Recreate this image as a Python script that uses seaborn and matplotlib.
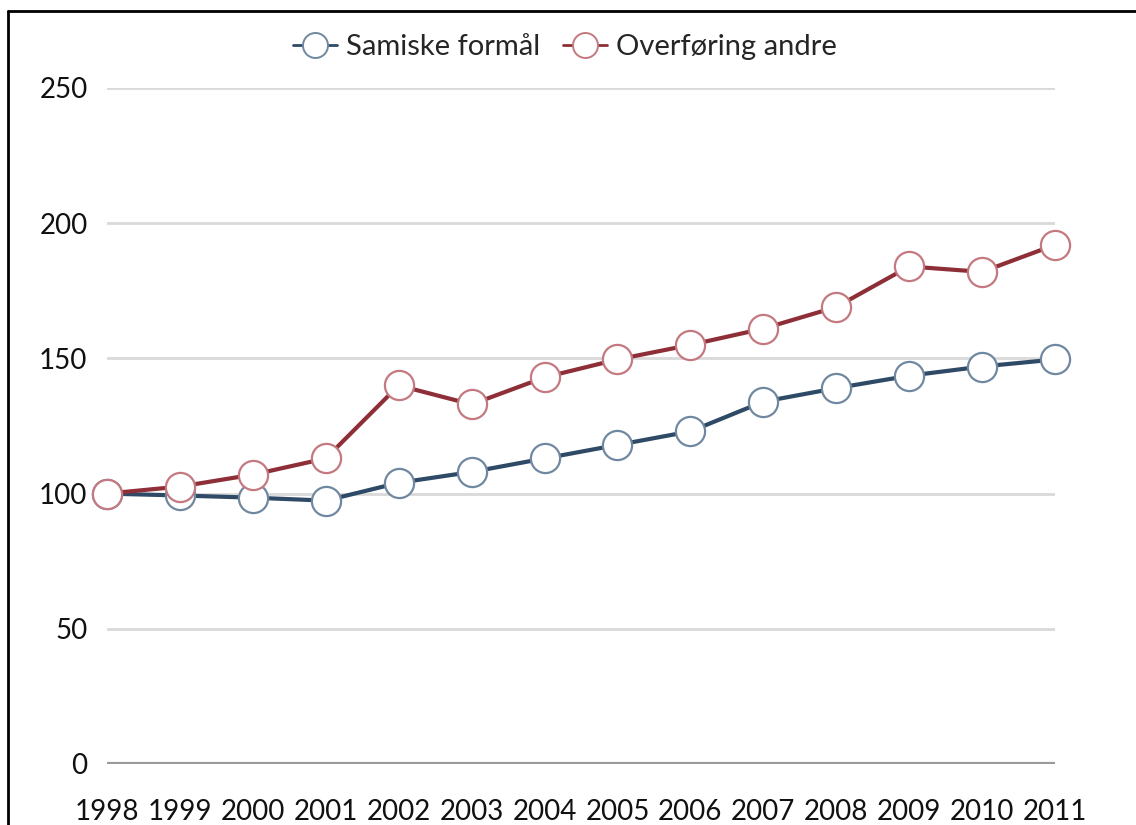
import matplotlib
matplotlib.use("Agg")
import matplotlib.pyplot as plt
import seaborn as sns
import pandas as pd
from matplotlib.lines import Line2D

years = list(range(1998, 2012))
samiske = [100, 99.3, 98.5, 97.4, 104, 108, 113, 118, 123, 134, 139, 143.6, 147, 149.6]
overforing = [100, 102.6, 107, 113, 140, 133, 143, 149.6, 155, 161, 169, 184, 182, 192]
series_names = ["Samiske formål", "Overføring andre"]
y_ticks = [0, 50, 100, 150, 200, 250]

line_colors = ["#2e4a66", "#8e2f38"]
edge_colors = ["#6f88a0", "#c3797f"]

sns.set_theme(style="white")
plt.rcParams['font.family'] = ['Lato', 'DejaVu Sans']

df = pd.DataFrame({
    "year": years * 2,
    "value": samiske + overforing,
    "series": [series_names[0]] * len(years) + [series_names[1]] * len(years),
})

fig = plt.figure(figsize=(11.36, 8.25), dpi=100)
ax = fig.add_axes([107/1136, 61/825, (1055-107)/1136, (764-88)/825])

for ytick in y_ticks[1:]:
    ax.axhline(ytick, color="#d9d9d9", lw=2, zorder=0)
ax.axhline(0, color="#9a9a9a", lw=3, zorder=1)

for i, name in enumerate(series_names):
    sub = df[df["series"] == name]
    sns.lineplot(data=sub, x="year", y="value", ax=ax, color=line_colors[i], lw=3,
                 marker="o", markersize=21, markerfacecolor="white",
                 markeredgecolor=edge_colors[i], markeredgewidth=1.6,
                 clip_on=False, zorder=3 + i, legend=False)

ax.set_xlim(1998, 2011)
ax.set_ylim(0, 250)
ax.set_yticks(y_ticks)
ax.set_xticks(years)
ax.set_xticklabels([str(y) for y in years])
ax.tick_params(axis="y", labelsize=20, pad=14, length=0, colors="#111111")
ax.tick_params(axis="x", labelsize=20, pad=25, length=0, colors="#111111")
ax.set_xlabel("")
ax.set_ylabel("")
for s in ax.spines.values():
    s.set_visible(False)

handles = [Line2D([0], [0], color=line_colors[i], lw=2, marker="o", markersize=18,
                  markerfacecolor="white", markeredgecolor=edge_colors[i], markeredgewidth=1.4)
           for i in range(2)]
fig.legend(handles, series_names, loc="center", bbox_to_anchor=(565/1136, 1 - 47/825),
           ncol=2, frameon=False, fontsize=21, handlelength=1.5, handletextpad=0.3,
           columnspacing=0.8)

# frame border (top and left visible)
fig.add_artist(Line2D([8/1136, 1.0], [1 - 11/825, 1 - 11/825], color="black", lw=2, transform=fig.transFigure))
fig.add_artist(Line2D([8/1136, 8/1136], [1 - 11/825, 0], color="black", lw=2, transform=fig.transFigure))

fig.savefig("out.png", dpi=100)
